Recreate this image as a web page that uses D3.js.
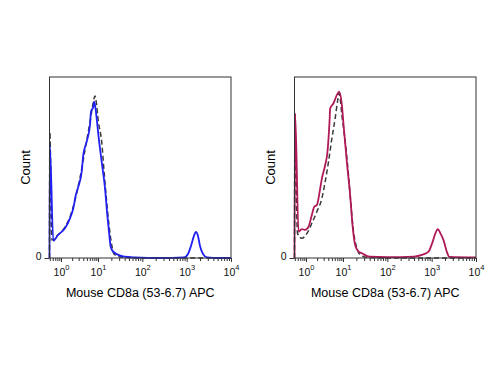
<!DOCTYPE html>
<html>
<head>
<meta charset="utf-8">
<script src="https://cdn.jsdelivr.net/npm/d3@7"></script>
<style>
  body { margin: 0; background: #fff; }
  svg { display: block; font-family: "Liberation Sans", Arial, sans-serif; }
</style>
</head>
<body>
<div id="chart"></div>
<script>
// left panel: CD8a stained (blue) vs isotype (dashed)
const leftStainX = [0.49, 0.50, 0.62, 0.83, 1.28, 1.75, 2.15, 2.50, 2.94, 3.63, 4.0, 4.95, 6.08, 6.47, 7.46, 7.8, 8.3, 9.2, 10.2, 12.1, 14.4, 16.2, 18.0, 19.3, 22.1, 28.7, 39.2, 68, 250, 870, 1070, 1250, 1460, 1620, 1800, 2000, 2340, 2880, 5600, 10000];
const leftStainY = [0, 62.4, 9.6, 12.7, 16.4, 21.9, 27.5, 34.5, 39.5, 47.7, 56.9, 64.3, 73.5, 80.8, 83.6, 86.4, 84.5, 77.2, 68.0, 53.2, 38.5, 23.8, 12.7, 6.2, 3.5, 1.7, 0.7, 0.3, 0, 0.3, 2.2, 6.6, 12.2, 14.4, 12.2, 6.6, 2.2, 0.3, 0, 0];
const leftIsoX = [0.49, 0.50, 0.57, 0.78, 1.28, 1.75, 2.39, 3.26, 4.45, 6.08, 7.33, 8.3, 8.8, 10.2, 12.1, 13.9, 15.7, 17.7, 20.4, 23, 31.3, 88, 10000];
const leftIsoY = [0, 69.6, 9.9, 12.2, 17.1, 22.7, 32, 44.2, 59.7, 75.1, 85.1, 89.5, 87.3, 75.3, 64.3, 45.9, 31.1, 18.2, 7.2, 2.2, 0.6, 0, 0];

// right panel: CD8a stained (crimson) vs isotype (dashed)
const rightStainX = [0.49, 0.51, 0.63, 0.77, 0.95, 1.17, 1.44, 1.67, 1.97, 2.42, 2.69, 3.30, 3.81, 4.32, 4.51, 5.54, 6.84, 7.89, 9.33, 10.3, 12.2, 14.5, 16.4, 18.8, 22.4, 26.7, 39.6, 100, 400, 603, 849, 1030, 1200, 1380, 1560, 1850, 2210, 2490, 10000];
const rightStainY = [0, 79.9, 14.5, 16.0, 15.5, 17.3, 23.8, 28.3, 29.3, 38.5, 44.0, 51.4, 58.7, 75.3, 82.7, 85.5, 90.1, 91.9, 84.5, 73.5, 53.2, 34.8, 18.2, 7.2, 3.5, 2.6, 0.7, 0.5, 0.8, 1.7, 3.5, 8.3, 13.3, 15.9, 13.8, 9.9, 3.3, 0.6, 0.3];
const rightIsoX = [0.49, 0.50, 0.59, 0.77, 1.06, 1.44, 1.97, 2.69, 3.30, 4.06, 5.01, 6.15, 7.10, 7.89, 9.33, 11.2, 13.3, 15.3, 17.3, 20.6, 24.4, 36.5, 100, 10000];
const rightIsoY = [0, 69.6, 13.6, 10.9, 13.6, 19.2, 25.6, 33.0, 42.2, 53.2, 66.1, 77.2, 86.4, 91.0, 79.0, 64.3, 45.9, 27.5, 14.5, 5.4, 1.7, 0.3, 0, 0];

const decades = [1, 10, 100, 1000, 10000];
const decadeExp = ['0', '1', '2', '3', '4'];
const axisTitle = 'Mouse CD8a (53-6.7) APC';
const countTitle = 'Count';

const width = 500, height = 375;
const svg = d3.select('#chart').append('svg').attr('width', width).attr('height', height);

const plotTop = 77, plotBottom = 258, panelW = 181.5;
const panels = [
  {x0: 49.5, stainX: leftStainX, stainY: leftStainY, isoX: leftIsoX, isoY: leftIsoY, color: '#2020f2'},
  {x0: 294.5, stainX: rightStainX, stainY: rightStainY, isoX: rightIsoX, isoY: rightIsoY, color: '#b01858'}
];

// minor ticks 2..9 of every decade inside the range
const minors = [];
[0.1, 1, 10, 100, 1000].forEach(d => {
  for (let k = 2; k <= 9; k++) {
    const v = d * k;
    if (v >= 0.5 && v < 10000) minors.push(v);
  }
});

panels.forEach(p => {
  const g = svg.append('g').attr('transform', `translate(${p.x0},0)`);
  // logicle-ish: compressed below 10
  const x = d3.scaleLog().domain([0.49, 1, 10, 10000]).range([0, 11.5, 48.5, panelW]);
  const y = d3.scaleLinear().domain([0, 100]).range([plotBottom, plotTop]);

  const line = d3.line().x(d => x(d[0])).y(d => y(d[1])).curve(d3.curveMonotoneX);

  g.append('path')
    .datum(d3.zip(p.isoX, p.isoY))
    .attr('fill', 'none').attr('stroke', '#3a3a3a').attr('stroke-width', 1.5)
    .attr('stroke-dasharray', '5,3')
    .attr('d', line);

  g.append('path')
    .datum(d3.zip(p.stainX, p.stainY))
    .attr('fill', 'none').attr('stroke', p.color).attr('stroke-width', 1.8)
    .attr('d', line);

  // frame
  g.append('rect').attr('x', 0).attr('y', plotTop).attr('width', panelW).attr('height', plotBottom - plotTop)
    .attr('fill', 'none').attr('stroke', '#333').attr('stroke-width', 1);

  // minor ticks
  const minorAxis = g.append('g').attr('transform', `translate(0,${plotBottom})`)
    .call(d3.axisBottom(x).tickValues(minors).tickSize(3).tickFormat(''));
  minorAxis.select('.domain').remove();
  minorAxis.selectAll('line').attr('stroke', '#333');

  // major ticks with 10^n labels
  const majorAxis = g.append('g').attr('transform', `translate(0,${plotBottom})`)
    .call(d3.axisBottom(x).tickValues(decades).tickSize(4).tickFormat(''));
  majorAxis.select('.domain').remove();
  majorAxis.selectAll('line').attr('stroke', '#333');
  majorAxis.selectAll('.tick text').remove();
  majorAxis.selectAll('.tick').append('text')
    .attr('y', 18).attr('text-anchor', 'middle').attr('fill', '#111')
    .style('font-size', '10.5px')
    .each(function (d, i) {
      const t = d3.select(this);
      t.append('tspan').text('10');
      t.append('tspan').attr('dy', -6).style('font-size', '7.5px').text(decadeExp[i]);
    });

  // y axis: only the zero tick
  const yAxis = g.append('g')
    .call(d3.axisLeft(y).tickValues([0]).tickSize(5).tickPadding(3).tickFormat(d3.format('d')));
  yAxis.select('.domain').remove();
  yAxis.selectAll('line').attr('stroke', '#333');
  yAxis.selectAll('text').attr('fill', '#111').style('font-size', '10.5px').attr('dy', '0.1em');

  g.append('text')
    .attr('x', panelW / 2).attr('y', 297).attr('text-anchor', 'middle')
    .attr('fill', '#000').style('font-size', '12.5px')
    .text(axisTitle);

  g.append('text')
    .attr('transform', `translate(${-19.5},167.5) rotate(-90)`)
    .attr('text-anchor', 'middle').attr('fill', '#000').style('font-size', '13px')
    .text(countTitle);
});
</script>
</body>
</html>
